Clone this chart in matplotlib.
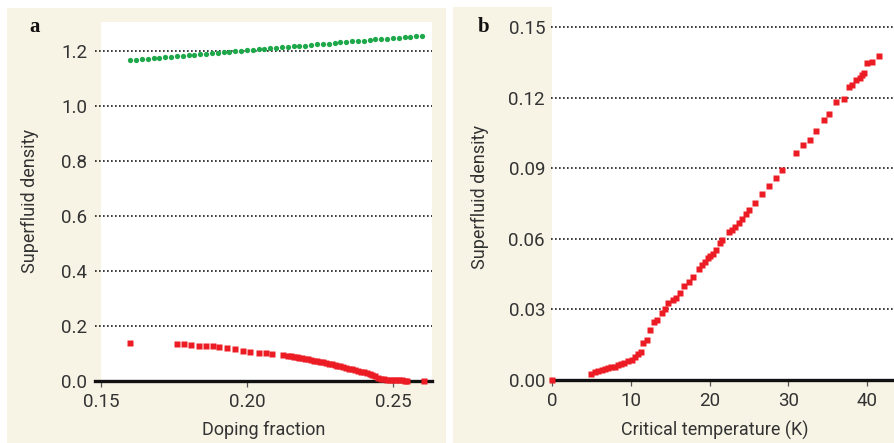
import matplotlib.pyplot as plt
from matplotlib.patches import Rectangle

# panel a: superfluid density vs doping
dop_red = [0.160, 0.176, 0.1785, 0.181, 0.1835, 0.186, 0.1885, 0.1905, 0.193, 0.196,
           0.1985, 0.201, 0.204, 0.2065, 0.2085, 0.2125,
           0.214, 0.215, 0.216, 0.217, 0.218, 0.219, 0.220, 0.221, 0.222, 0.223,
           0.224, 0.225, 0.226, 0.227, 0.228, 0.229, 0.230, 0.231, 0.232, 0.233,
           0.234, 0.235, 0.236, 0.237, 0.238, 0.239, 0.240, 0.241, 0.242, 0.243,
           0.244, 0.245, 0.246, 0.247, 0.248, 0.249, 0.250, 0.251, 0.252, 0.253,
           0.254, 0.255, 0.2605]
rho_red = [0.138, 0.133, 0.133, 0.130, 0.129, 0.128, 0.126, 0.125, 0.119, 0.115,
           0.110, 0.107, 0.103, 0.101, 0.098, 0.095,
           0.092, 0.090, 0.088, 0.086, 0.085, 0.083, 0.081, 0.079, 0.076, 0.074,
           0.072, 0.070, 0.068, 0.066, 0.063, 0.061, 0.058, 0.056, 0.053, 0.050,
           0.047, 0.045, 0.042, 0.039, 0.036, 0.033, 0.031, 0.028, 0.025, 0.021,
           0.017, 0.012, 0.009, 0.007, 0.005, 0.004, 0.003, 0.003, 0.002, 0.002,
           0.001, 0.001, 0.0]

dop_green = [0.160, 0.162, 0.164, 0.166, 0.168, 0.170, 0.172, 0.174, 0.176, 0.178,
             0.180, 0.182, 0.184, 0.186, 0.188, 0.190, 0.192, 0.194, 0.196, 0.198,
             0.200, 0.202, 0.204, 0.206, 0.208, 0.210, 0.212, 0.214, 0.216, 0.218,
             0.220, 0.222, 0.224, 0.226, 0.228, 0.230, 0.232, 0.234, 0.236, 0.238,
             0.240, 0.242, 0.244, 0.246, 0.248, 0.250, 0.252, 0.254, 0.256, 0.258,
             0.260]
rho_green = [1.167, 1.169, 1.171, 1.172, 1.174, 1.176, 1.178, 1.179, 1.181, 1.183,
             1.185, 1.187, 1.188, 1.190, 1.192, 1.194, 1.195, 1.197, 1.199, 1.201,
             1.203, 1.204, 1.206, 1.208, 1.210, 1.211, 1.213, 1.215, 1.217, 1.219,
             1.220, 1.222, 1.224, 1.226, 1.227, 1.229, 1.231, 1.233, 1.235, 1.236,
             1.238, 1.240, 1.242, 1.243, 1.245, 1.247, 1.249, 1.251, 1.252, 1.254,
             1.256]

# panel b: superfluid density vs Tc
tc = [0.0, 5.0, 5.4, 5.9, 6.3, 6.7, 7.1, 7.5, 8.0, 8.4, 8.8, 9.2, 9.6, 10.1, 10.5,
      10.9, 11.35, 11.6, 12.0, 12.4, 12.9, 13.3, 14.0, 14.3, 14.7, 15.3, 15.7,
      16.2, 16.8, 17.4, 17.9, 18.6, 19.0, 19.4, 19.8, 20.1, 20.4, 20.8, 21.3,
      21.6, 22.5, 22.9, 23.2, 23.7, 24.1, 24.6, 25.0, 25.8, 26.7, 27.5, 28.4,
      29.2, 31.0, 31.9, 32.7, 33.5, 34.5, 35.2, 36.0, 37.0, 37.7, 38.1, 38.6,
      39.1, 39.4, 39.6, 40.0, 40.6, 41.5]
rho_tc = [0.0, 0.0027, 0.0034, 0.0040, 0.0043, 0.0047, 0.0050, 0.0054, 0.0057,
          0.0064, 0.0070, 0.0073, 0.0080, 0.0087, 0.0099, 0.0109, 0.0120, 0.0157,
          0.0171, 0.0211, 0.0245, 0.0254, 0.0287, 0.0300, 0.0326, 0.0340, 0.0351,
          0.0371, 0.0400, 0.0418, 0.0439, 0.0474, 0.0489, 0.0503, 0.0517, 0.0527,
          0.0538, 0.0552, 0.0581, 0.0595, 0.0630, 0.0637, 0.0652, 0.0669, 0.0687,
          0.0708, 0.0722, 0.0753, 0.0793, 0.0824, 0.0860, 0.0893, 0.0964, 0.1001,
          0.1020, 0.1058, 0.1105, 0.1133, 0.1183, 0.1197, 0.1247, 0.1257, 0.1275,
          0.1285, 0.1299, 0.1306, 0.1348, 0.1352, 0.1377]

yt_a = [0.0, 0.2, 0.4, 0.6, 0.8, 1.0, 1.2]
xt_a = [0.15, 0.20, 0.25]
yt_b = [0.00, 0.03, 0.06, 0.09, 0.12, 0.15]
xt_b = [0, 10, 20, 30, 40]

RED = '#ec1c24'
GREEN = '#1ea84a'
BEIGE = '#f7f3e5'
TXT = '#333333'

plt.rcParams['font.family'] = ['Roboto', 'DejaVu Sans']

W, H = 894, 443
fig = plt.figure(figsize=(W / 100, H / 100), dpi=100)

def fx(px):
    return px / W

def fy(py):
    return 1 - py / H

# beige panels behind each plot
fig.patches.append(Rectangle((fx(7), 0), fx(446) - fx(7), fy(8), transform=fig.transFigure,
                             facecolor=BEIGE, edgecolor='none', zorder=-10))
fig.patches.append(Rectangle((fx(453), 0), fx(894) - fx(453), fy(7), transform=fig.transFigure,
                             facecolor=BEIGE, edgecolor='none', zorder=-10))

ax1 = fig.add_axes([fx(101), fy(381), (432 - 101) / W, (381 - 21.7) / H])
ax2 = fig.add_axes([fx(552), fy(380), (894 - 552) / W, (380 - 7) / H])


def style(ax, yticks, xticks, ylabs, xlabs, grid_x0, pad_y):
    for s in ax.spines.values():
        s.set_visible(False)
    for v in yticks[1:]:
        ax.axhline(v, xmin=grid_x0, xmax=1, color='#1a1a1a', lw=1.2,
                   ls=(0, (1, 1.4)), clip_on=False, zorder=1)
    ax.axhline(0, xmin=grid_x0, xmax=1, color='#111111', lw=2.4, clip_on=False, zorder=2)
    ax.set_yticks(yticks, ylabs)
    ax.set_xticks(xticks, xlabs)
    ax.tick_params(axis='y', length=0, pad=pad_y, labelsize=13.5, labelcolor=TXT)
    ax.tick_params(axis='x', length=4.5, width=0.9, color='#555555', pad=4,
                   labelsize=13.5, labelcolor=TXT)


ax1.set_xlim(0.15, 0.2634)
ax1.set_ylim(0, 1.3066)
style(ax1, yt_a, xt_a, ['0.0', '0.2', '0.4', '0.6', '0.8', '1.0', '1.2'],
      ['0.15', '0.20', '0.25'], -0.018, 10)
ax1.plot(dop_green, rho_green, 'o', color=GREEN, ms=3.8, mec='none', clip_on=False, zorder=3)
ax1.plot(dop_red, rho_red, 's', color=RED, ms=4.3, mec='none', clip_on=False, zorder=3)
ax1.set_xlabel('Doping fraction', fontsize=13, color=TXT, va='center')
ax1.set_ylabel('Superfluid density', fontsize=13, color=TXT, va='center')
ax1.xaxis.set_label_coords(0.4924, -0.136)
ax1.yaxis.set_label_coords(-0.2145, 0.5)

ax2.set_xlim(0, 43.4)
ax2.set_ylim(0, 0.1587)
style(ax2, yt_b, xt_b, ['0.00', '0.03', '0.06', '0.09', '0.12', '0.15'],
      ['0', '10', '20', '30', '40'], -0.003, 5)
ax2.plot(tc, rho_tc, 's', color=RED, ms=4.4, mec='none', clip_on=False, zorder=3)
ax2.set_xlabel('Critical temperature (K)', fontsize=13, color=TXT, va='center')
ax2.set_ylabel('Superfluid density', fontsize=13, color=TXT, va='center')
ax2.xaxis.set_label_coords(0.4766, -0.134)
ax2.yaxis.set_label_coords(-0.2105, 0.49)

# panel letters
fig.text(fx(34.5), fy(26.5), 'a', family='Liberation Serif', weight='bold', fontsize=15,
         ha='center', va='center', color='#111111')
fig.text(fx(484), fy(27), 'b', family='Liberation Serif', weight='bold', fontsize=15,
         ha='center', va='center', color='#111111')

fig.savefig('out.png', dpi=100)
